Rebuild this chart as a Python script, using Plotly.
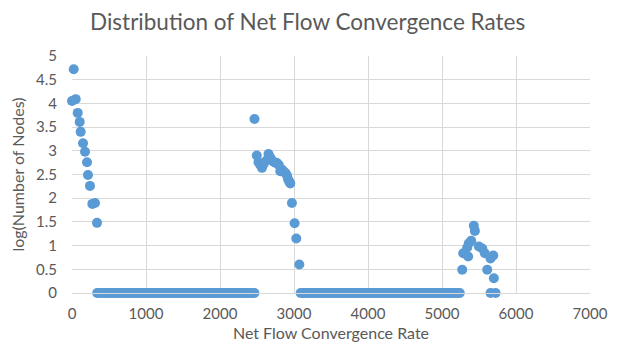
import plotly.graph_objects as go

# cluster 1
x_c1 = [0, 23, 50, 77, 104, 117, 149, 176, 203, 216, 243, 275, 311, 338]
y_c1 = [4.05, 4.72, 4.09, 3.80, 3.61, 3.40, 3.16, 2.98, 2.76, 2.49, 2.26, 1.88, 1.90, 1.48]

# cluster 2
x_c2 = [2466, 2497, 2520, 2545, 2567, 2590, 2630, 2656, 2680, 2700, 2725, 2750, 2770,
        2795, 2815, 2840, 2860, 2885, 2905, 2920, 2936, 2950, 2972, 3008, 3031, 3072]
y_c2 = [3.67, 2.90, 2.76, 2.70, 2.64, 2.72, 2.80, 2.93, 2.86, 2.80, 2.77, 2.75, 2.74,
        2.70, 2.57, 2.60, 2.56, 2.53, 2.48, 2.40, 2.35, 2.31, 1.90, 1.47, 1.15, 0.60]

# cluster 3
x_c3 = [5273, 5287, 5341, 5354, 5363, 5395, 5430, 5444, 5498, 5544, 5579, 5611, 5656,
        5693, 5701, 5656, 5724]
y_c3 = [0.49, 0.84, 0.96, 0.77, 1.05, 1.10, 1.42, 1.31, 0.98, 0.94, 0.84, 0.49, 0.73,
        0.79, 0.31, 0.00, 0.00]

# bins with zero (log of 1 node)
x_zero1 = [340, 365, 390, 415, 440, 465, 490, 515, 540, 565, 590, 615, 640, 665, 690,
           715, 740, 765, 790, 815, 840, 865, 890, 915, 940, 965, 990, 1015, 1040, 1065,
           1090, 1115, 1140, 1165, 1190, 1215, 1240, 1265, 1290, 1315, 1340, 1365, 1390,
           1415, 1440, 1465, 1490, 1515, 1540, 1565, 1590, 1615, 1640, 1665, 1690, 1715,
           1740, 1765, 1790, 1815, 1840, 1865, 1890, 1915, 1940, 1965, 1990, 2015, 2040,
           2065, 2090, 2115, 2140, 2165, 2190, 2215, 2240, 2265, 2290, 2315, 2340, 2365,
           2390, 2415, 2440, 2465]
x_zero2 = [3090, 3115, 3140, 3165, 3190, 3215, 3240, 3265, 3290, 3315, 3340, 3365, 3390,
           3415, 3440, 3465, 3490, 3515, 3540, 3565, 3590, 3615, 3640, 3665, 3690, 3715,
           3740, 3765, 3790, 3815, 3840, 3865, 3890, 3915, 3940, 3965, 3990, 4015, 4040,
           4065, 4090, 4115, 4140, 4165, 4190, 4215, 4240, 4265, 4290, 4315, 4340, 4365,
           4390, 4415, 4440, 4465, 4490, 4515, 4540, 4565, 4590, 4615, 4640, 4665, 4690,
           4715, 4740, 4765, 4790, 4815, 4840, 4865, 4890, 4915, 4940, 4965, 4990, 5015,
           5040, 5065, 5090, 5115, 5140, 5165, 5190, 5215, 5240]

x_all = x_c1 + x_zero1 + x_c2 + x_zero2 + x_c3
y_all = y_c1 + [0.0] * len(x_zero1) + y_c2 + [0.0] * len(x_zero2) + y_c3

FONT = "Lato"
GRAY = "#595959"
GRID = "#D9D9D9"

fig = go.Figure(go.Scatter(
    x=x_all, y=y_all, mode="markers",
    marker=dict(color="#5B9BD5", size=10, opacity=1, line=dict(width=0)),
    cliponaxis=False,
))

# page body has an 8px default margin, so the figure is 8px smaller than the window
fig.update_layout(
    width=614, height=339,
    paper_bgcolor="white", plot_bgcolor="white",
    margin=dict(l=64, r=32, t=48, b=54),
    showlegend=False,
    title=dict(text="Distribution of Net Flow Convergence Rates",
               x=0.488, xanchor="center", y=0.958, yanchor="middle",
               font=dict(family=FONT, size=22.5, color=GRAY)),
    font=dict(family=FONT, color=GRAY),
)
fig.update_xaxes(
    range=[0, 7000], tickvals=[0, 1000, 2000, 3000, 4000, 5000, 6000, 7000],
    showgrid=True, gridcolor=GRID, gridwidth=1, zeroline=False,
    showline=True, linecolor=GRID, linewidth=1, automargin=False,
    ticks="", ticklabelstandoff=7,
    tickfont=dict(family=FONT, size=15, color=GRAY),
    title=dict(text="Net Flow Convergence Rate", standoff=6,
               font=dict(family=FONT, size=16, color=GRAY)),
)
fig.update_yaxes(
    range=[0, 5], tickvals=[0, 0.5, 1, 1.5, 2, 2.5, 3, 3.5, 4, 4.5, 5],
    ticktext=["0", "0.5", "1", "1.5", "2", "2.5", "3", "3.5", "4", "4.5", "5"],
    showgrid=True, gridcolor=GRID, gridwidth=1, zeroline=False,
    showline=False, ticks="", ticklabelstandoff=14, automargin=False,
    tickfont=dict(family=FONT, size=15, color=GRAY),
    title=dict(text="log(Number of Nodes)", standoff=8,
               font=dict(family=FONT, size=16, color=GRAY)),
)

fig.write_html("out.html")
